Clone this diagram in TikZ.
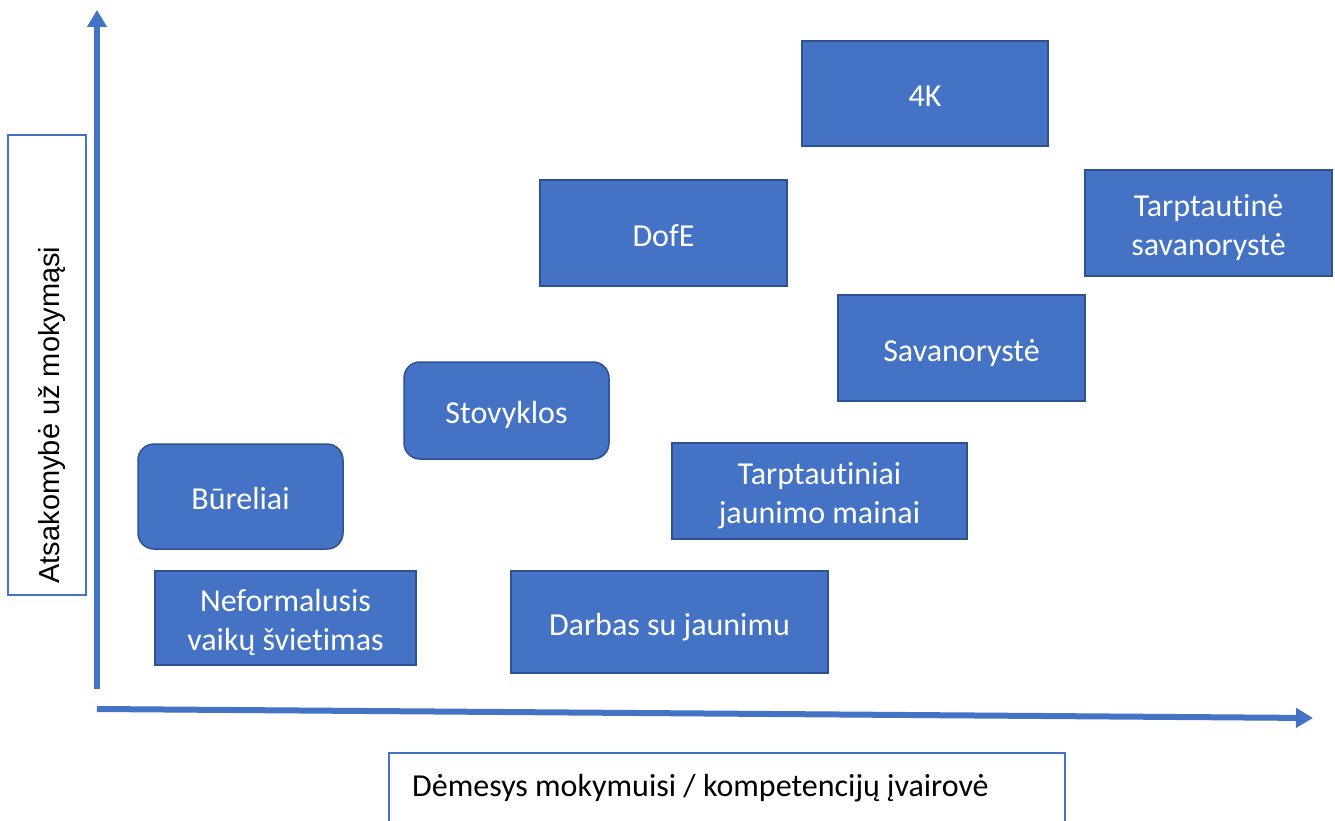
\documentclass[tikz,border=0pt]{standalone}
\usepackage{fontspec}
\setmainfont{Carlito}[Ligatures=NoCommon]
\newfontfamily\arialf{Liberation Sans}
\usetikzlibrary{arrows.meta}
\definecolor{fillblue}{HTML}{4472C4}
\definecolor{edgeblue}{HTML}{2F528F}
\definecolor{axisblue}{HTML}{4472C4}
\newcommand{\itemtext}[1]{\begin{tabular}{@{}c@{}}\rule{0pt}{38pt}#1\end{tabular}}
\tikzset{
  itembox/.style={draw=edgeblue, fill=fillblue, line width=1.5pt, text=white,
    font=\fontsize{32}{39}\selectfont, align=center, inner sep=0pt},
  rounditem/.style={itembox, rounded corners=16pt},
  axisline/.style={draw=axisblue, line width=6pt, -{Triangle[length=17pt,width=19pt]}},
  labelbox/.style={draw=axisblue, line width=2pt, fill=white, inner sep=0pt},
}
\begin{document}
\begin{tikzpicture}[x=1pt,y=-1pt]
\useasboundingbox (0,0) rectangle (1335,821);
\clip (0,0) rectangle (1335,821);
% axes
\coordinate (yb) at (97,689);
\coordinate (yt) at (97,10);
\coordinate (xl) at (97,709);
\coordinate (xr) at (1313,718);
\draw[axisline] (yb) -- (yt);
\draw[axisline] (xl) -- (xr);
% axis labels
\node[labelbox, minimum width=78pt, minimum height=460pt] (ylabbox) at (47,365) {};
\node[font=\arialf\fontsize{29}{35}\selectfont, rotate=90, inner sep=0pt] (ylab) at (52,415) {Atsakomybė už mokymąsi};
\node[labelbox, minimum width=676pt, minimum height=100pt] (xlabbox) at (727,803) {};
\node[font=\fontsize{32}{39}\selectfont, anchor=west, inner sep=0pt] (xlab) at (412,788) {Dėmesys mokymuisi / kompetencijų įvairovė};
% items
\node[itembox, minimum width=246pt, minimum height=105pt] (k4) at (925,93.5) {\itemtext{4K}};
\node[itembox, minimum width=247pt, minimum height=106pt] (dofe) at (663.5,233) {\itemtext{DofE}};
\node[itembox, minimum width=247pt, minimum height=106pt] (tsav) at (1208.5,223) {\itemtext{Tarptautinė\\savanorystė}};
\node[itembox, minimum width=247pt, minimum height=106pt] (sav) at (961.5,348) {\itemtext{Savanorystė}};
\node[rounditem, minimum width=205pt, minimum height=97pt] (stov) at (506.5,410.5) {\itemtext{Stovyklos}};
\node[rounditem, minimum width=205pt, minimum height=105pt] (bur) at (240.5,496.5) {\itemtext{Būreliai}};
\node[itembox, minimum width=295pt, minimum height=96pt] (tjm) at (819.5,491) {\itemtext{Tarptautiniai\\jaunimo mainai}};
\node[itembox, minimum width=261pt, minimum height=94pt] (nvs) at (285.5,618) {\itemtext{Neformalusis\\vaikų švietimas}};
\node[itembox, minimum width=317pt, minimum height=102pt] (dsj) at (669.5,622) {\itemtext{Darbas su jaunimu}};
\end{tikzpicture}
\end{document}
